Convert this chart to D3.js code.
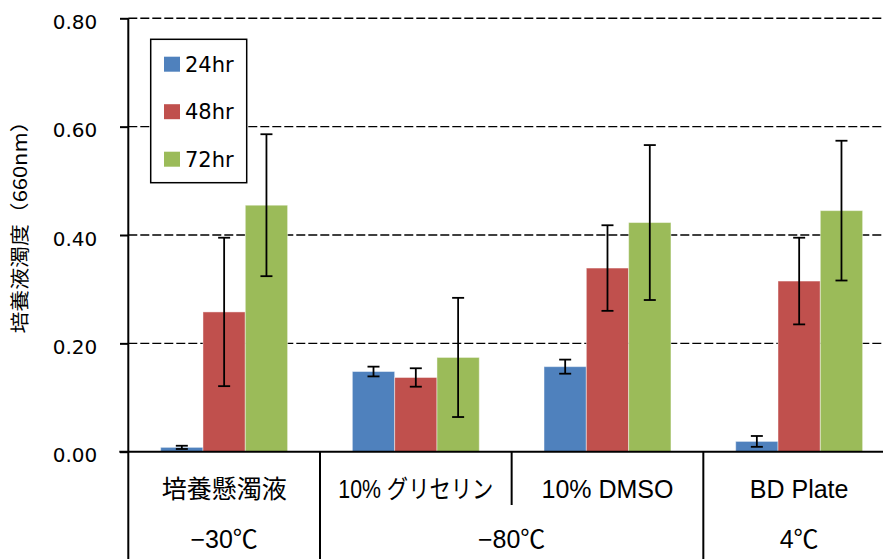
<!DOCTYPE html>
<html>
<head>
<meta charset="utf-8">
<script src="https://cdn.jsdelivr.net/npm/d3@7/dist/d3.min.js"></script>
<style>
  html, body { margin: 0; padding: 0; background: #fff; }
  svg { display: block; }
</style>
</head>
<body>
<svg id="chart" width="883" height="559"></svg>
<script>
// Storage conditions (x categories) and their temperature groups
const categories = ["培養懸濁液", "10% グリセリン", "10% DMSO", "BD Plate"];
const groupLabels = ["−30℃", "−80℃", "4℃"];
const groupFirst = [0, 1, 3];
const groupLast = [0, 2, 3];

// Incubation times (series)
const series = ["24hr", "48hr", "72hr"];
const seriesColors = ["#4F81BD", "#C0504D", "#9BBB59"];

// Mean turbidity (OD660) per condition
const values24 = [0.008, 0.148, 0.157, 0.019];
const values48 = [0.258, 0.137, 0.339, 0.315];
const values72 = [0.455, 0.174, 0.423, 0.445];

// Error bar half-widths
const err24 = [0.003, 0.009, 0.013, 0.010];
const err48 = [0.137, 0.017, 0.079, 0.080];
const err72 = [0.131, 0.110, 0.143, 0.129];

const yTicks = [0, 0.2, 0.4, 0.6, 0.8];
const yTitle = "培養液濁度（660nm）";

(function draw() {
  const allValues = [values24, values48, values72];
  const allErrors = [err24, err48, err72];

  const svg = d3.select("#chart");
  const W = 883, H = 559;
  const plotLeft = 128.3, plotRight = 895, plotTop = 18.3, plotBottom = 451.7;

  const x = d3.scaleBand().domain(d3.range(categories.length)).range([plotLeft, plotRight]).paddingInner(0).paddingOuter(0);
  const xs = d3.scaleBand().domain(d3.range(series.length)).range([0, x.bandwidth()]).paddingInner(0).paddingOuter(0.765);
  const y = d3.scaleLinear().domain([0, 0.8]).range([plotBottom, plotTop]);

  // dashed horizontal gridlines
  svg.append("g")
    .selectAll("line")
    .data(yTicks.filter(v => v > 0))
    .join("line")
    .attr("x1", plotLeft).attr("x2", W)
    .attr("y1", d => y(d)).attr("y2", d => y(d))
    .attr("stroke", "#000")
    .attr("stroke-width", 1.4)
    .attr("stroke-dasharray", "9,3");

  // bars
  const rows = [];
  categories.forEach((c, ci) => {
    series.forEach((s, si) => {
      rows.push({ ci, si, v: allValues[si][ci], e: allErrors[si][ci] });
    });
  });

  svg.append("g")
    .selectAll("rect")
    .data(rows)
    .join("rect")
    .attr("x", d => x(d.ci) + xs(d.si))
    .attr("width", xs.bandwidth())
    .attr("y", d => y(d.v))
    .attr("height", d => y(0) - y(d.v))
    .attr("fill", d => seriesColors[d.si])
    .attr("stroke", "rgba(255,255,255,0.45)")
    .attr("stroke-width", 1);

  // error bars
  const eb = svg.append("g").attr("stroke", "#000").attr("stroke-width", 1.8);
  rows.forEach(d => {
    const cx = x(d.ci) + xs(d.si) + xs.bandwidth() / 2;
    const y1 = y(d.v + d.e), y2 = y(d.v - d.e);
    eb.append("line").attr("x1", cx).attr("x2", cx).attr("y1", y1).attr("y2", y2);
    eb.append("line").attr("x1", cx - 6).attr("x2", cx + 6).attr("y1", y1).attr("y2", y1);
    eb.append("line").attr("x1", cx - 6).attr("x2", cx + 6).attr("y1", y2).attr("y2", y2);
  });

  // y axis with ticks and labels
  const yAxis = d3.axisLeft(y)
    .tickValues(yTicks)
    .tickSize(8.3)
    .tickPadding(22.8)
    .tickFormat(d3.format(".2f"));
  const gy = svg.append("g").attr("transform", `translate(${plotLeft},0)`).call(yAxis);
  gy.select(".domain").remove();
  gy.selectAll(".tick line").attr("stroke", "#000").attr("stroke-width", 2);
  gy.selectAll(".tick text")
    .attr("fill", "#000")
    .attr("font-family", "DejaVu Sans, sans-serif")
    .attr("font-size", 20)
    .attr("dy", "0.5em");

  // axis lines
  svg.append("line")
    .attr("x1", plotLeft).attr("x2", plotLeft).attr("y1", plotTop).attr("y2", H)
    .attr("stroke", "#000").attr("stroke-width", 2);
  svg.append("line")
    .attr("x1", plotLeft - 9).attr("x2", W).attr("y1", y(0)).attr("y2", y(0))
    .attr("stroke", "#000").attr("stroke-width", 2);

  // category dividers: full height between temperature groups, half height inside a group
  const dividers = [];
  for (let i = 1; i < categories.length; i++) {
    dividers.push({ i, full: groupFirst.includes(i) });
  }
  svg.append("g")
    .selectAll("line")
    .data(dividers)
    .join("line")
    .attr("x1", d => x(d.i)).attr("x2", d => x(d.i))
    .attr("y1", y(0)).attr("y2", d => d.full ? H : 505)
    .attr("stroke", "#000").attr("stroke-width", 2);

  // category labels
  svg.append("g")
    .selectAll("text")
    .data(categories)
    .join("text")
    .attr("x", (d, i) => x(i) + x.bandwidth() / 2)
    .attr("y", 498)
    .attr("text-anchor", "middle")
    .attr("font-family", "Liberation Sans, Arial, Noto Sans CJK JP, sans-serif")
    .attr("font-size", 25)
    .attr("fill", "#000")
    .each(function (d) {
      if (d.startsWith("10% グ")) {
        d3.select(this).attr("textLength", 155).attr("lengthAdjust", "spacingAndGlyphs");
      }
    })
    .text(d => d);

  // temperature group labels
  svg.append("g")
    .selectAll("text")
    .data(groupLabels)
    .join("text")
    .attr("x", (d, i) => (x(groupFirst[i]) + x(groupLast[i]) + x.bandwidth()) / 2)
    .attr("y", 548)
    .attr("text-anchor", "middle")
    .attr("font-family", "Liberation Sans, Arial, Noto Sans CJK JP, sans-serif")
    .attr("font-size", 25)
    .attr("fill", "#000")
    .text(d => d);

  // y axis title
  svg.append("text")
    .attr("transform", "translate(26.5,222) rotate(-90)")
    .attr("text-anchor", "middle")
    .attr("font-family", "Noto Sans CJK JP, sans-serif")
    .attr("font-size", 19)
    .attr("textLength", 223)
    .attr("lengthAdjust", "spacingAndGlyphs")
    .attr("fill", "#000")
    .text(yTitle);

  // legend
  const legend = svg.append("g");
  legend.append("rect")
    .attr("x", 150.7).attr("y", 39.3)
    .attr("width", 96).attr("height", 143.4)
    .attr("fill", "#fff").attr("stroke", "#000").attr("stroke-width", 1.5);
  const li = legend.selectAll("g.item")
    .data(series)
    .join("g")
    .attr("class", "item")
    .attr("transform", (d, i) => `translate(164,${56.7 + 47.5 * i})`);
  li.append("rect")
    .attr("width", 16).attr("height", 15)
    .attr("fill", (d, i) => seriesColors[i]);
  li.append("text")
    .attr("x", 21).attr("y", 15)
    .attr("font-family", "DejaVu Sans, sans-serif")
    .attr("font-size", 21)
    .attr("fill", "#000")
    .text(d => d);
})();
</script>
</body>
</html>
